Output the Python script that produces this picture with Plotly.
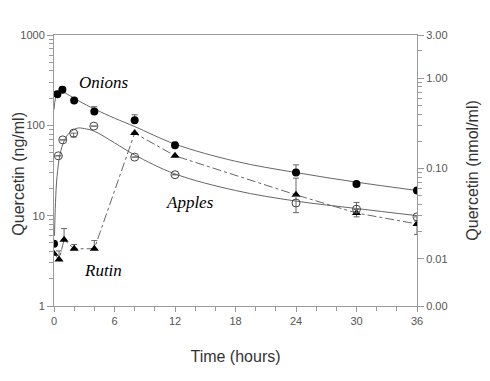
import plotly.graph_objects as go
import math

# ---- data ----
onion_t = [0, 0.33, 0.83, 2, 4, 8, 12, 24, 30, 36]
onion_v = [4.9, 221, 247, 188, 142, 114, 60, 30, 22.4, 19]
onion_err_up = [0, 0, 17, 0, 19, 17, 5, 6.5, 0, 0]

apple_t = [0.43, 0.87, 1.95, 3.95, 8, 12, 24, 30, 36]
apple_v = [46, 69, 82, 98, 44.5, 28.4, 13.8, 11.8, 9.7]
apple_err_up = [0, 0, 0, 0, 0, 0, 2.6, 2.2, 0]
apple_err_dn = [0, 0, 8, 0, 0, 0, 3.0, 1.0, 1.0]

rutin_t = [0, 0.5, 1, 2, 4, 8, 12, 24, 30, 36]
rutin_v = [3.8, 3.27, 5.4, 4.3, 4.3, 82, 46, 17, 10.7, 8.1]
rutin_err_up = [0, 0.8, 1.8, 0.5, 1.0, 0, 0, 9, 1.0, 0]
rutin_err_dn = [0, 0, 0, 0, 0, 0, 0, 0, 1.0, 1.9]

# fitted curves
onion_fit_t = [0, 0.15, 0.4, 0.8, 1.5, 2.5, 4, 6, 8, 12, 18, 24, 30, 36]
onion_fit_v = [150, 200, 232, 236, 215, 185, 152, 120, 97, 62, 40, 30, 23.5, 19]

apple_fit_t = [0.05, 0.15, 0.3, 0.6, 1, 1.5, 2.3, 3, 4, 6, 8, 12, 18, 24, 30, 36]
apple_fit_v = [6, 14, 27, 48, 67, 82, 93, 92, 86, 64, 47, 29, 19, 14.5, 12, 10]

x_ticks = [0, 6, 12, 18, 24, 30, 36]
y_ticks = [1, 10, 100, 1000]
y_ticktext = ["1", "10", "100", "1000"]
y2_ticks = [0.003, 0.01, 0.1, 1, 3]
y2_ticktext = ["0.00", "0.01", "0.10", "1.00", "3.00"]

LINE = "#666666"
AX = "#9a9a9a"
TXT = "#555555"

fig = go.Figure()

fig.add_trace(go.Scatter(x=onion_fit_t, y=onion_fit_v, mode="lines",
                         line=dict(color=LINE, width=1, shape="spline"),
                         showlegend=False, hoverinfo="skip"))
fig.add_trace(go.Scatter(x=apple_fit_t, y=apple_fit_v, mode="lines",
                         line=dict(color=LINE, width=1, shape="spline"),
                         showlegend=False, hoverinfo="skip"))
fig.add_trace(go.Scatter(x=rutin_t, y=rutin_v, mode="lines+markers",
                         line=dict(color=LINE, width=1, dash="dashdot"),
                         marker=dict(symbol="triangle-up", size=8, color="black"),
                         error_y=dict(type="data", array=rutin_err_up, arrayminus=rutin_err_dn,
                                      symmetric=False, color=LINE, thickness=1, width=3),
                         showlegend=False))
fig.add_trace(go.Scatter(x=apple_t, y=apple_v, mode="markers",
                         marker=dict(symbol="circle-open", size=8, color="#444444",
                                     line=dict(width=1)),
                         error_y=dict(type="data", array=apple_err_up, arrayminus=apple_err_dn,
                                      symmetric=False, color=LINE, thickness=1, width=3),
                         showlegend=False))
fig.add_trace(go.Scatter(x=onion_t, y=onion_v, mode="markers",
                         marker=dict(symbol="circle", size=8, color="black"),
                         error_y=dict(type="data", array=onion_err_up,
                                      arrayminus=[0] * len(onion_t),
                                      symmetric=False, color=LINE, thickness=1, width=3),
                         showlegend=False))
# dummy trace to activate the right axis
fig.add_trace(go.Scatter(x=[None], y=[None], yaxis="y2", showlegend=False, hoverinfo="skip"))

minor_left = [m * 10 ** d for d in range(0, 3) for m in range(2, 10)]
minor_right = [m * 10 ** d for d in (-2, -1) for m in range(2, 10)] + [2]

tickfont = dict(family="Liberation Sans, Arial, sans-serif", size=11, color=TXT)
titlefont = dict(family="Liberation Sans, Arial, sans-serif", size=16, color="#333333")

fig.update_layout(
    width=482, height=373,
    margin=dict(l=46, r=73, t=27, b=75),
    paper_bgcolor="white", plot_bgcolor="white",
    xaxis=dict(range=[0, 36], tickmode="array", tickvals=x_ticks, automargin=False,
               ticks="outside", ticklen=5, tickcolor=AX,
               minor=dict(tickmode="linear", tick0=0, dtick=2, ticks="outside",
                          ticklen=4, tickcolor=AX),
               showline=True, linecolor=AX, linewidth=1, mirror=True,
               showgrid=False, zeroline=False, tickfont=tickfont,
               title=dict(text="Time (hours)", font=titlefont, standoff=24)),
    yaxis=dict(type="log", range=[0, 3], tickmode="array", tickvals=y_ticks, automargin=False,
               ticktext=y_ticktext, ticks="outside", ticklen=6, tickcolor=AX,
               minor=dict(tickmode="array", tickvals=minor_left, ticks="outside",
                          ticklen=4, tickcolor=AX),
               showline=True, linecolor=AX, linewidth=1, mirror=False,
               showgrid=False, zeroline=False, tickfont=tickfont),
    yaxis2=dict(type="log", overlaying="y", side="right", automargin=False,
                range=[math.log10(0.003), math.log10(3)],
                tickmode="array", tickvals=y2_ticks, ticktext=y2_ticktext,
                ticks="outside", ticklen=6, tickcolor=AX,
                minor=dict(tickmode="array", tickvals=minor_right, ticks="outside",
                           ticklen=4, tickcolor=AX),
                showline=True, linecolor=AX, linewidth=1,
                showgrid=False, zeroline=False, tickfont=tickfont),
)

# y-axis titles
fig.add_annotation(xref="paper", yref="paper", x=-0.098, y=0.49, textangle=-90,
                   xanchor="center", yanchor="middle",
                   text="Quercetin (ng/ml)", showarrow=False, font=titlefont)
fig.add_annotation(xref="paper", yref="paper", x=1.152, y=0.50, textangle=-90,
                   xanchor="center", yanchor="middle",
                   text="Quercetin (nmol/ml)", showarrow=False, font=titlefont)

script_font = dict(family="Liberation Serif, DejaVu Serif, serif", size=17, color="black")
fig.add_annotation(x=4.96, y=math.log10(300), text="<i>Onions</i>", showarrow=False, font=script_font)
fig.add_annotation(x=13.5, y=math.log10(14), text="<i>Apples</i>", showarrow=False, font=script_font)
fig.add_annotation(x=4.86, y=math.log10(2.5), text="<i>Rutin</i>", showarrow=False, font=script_font)

fig.write_html("out.html")
